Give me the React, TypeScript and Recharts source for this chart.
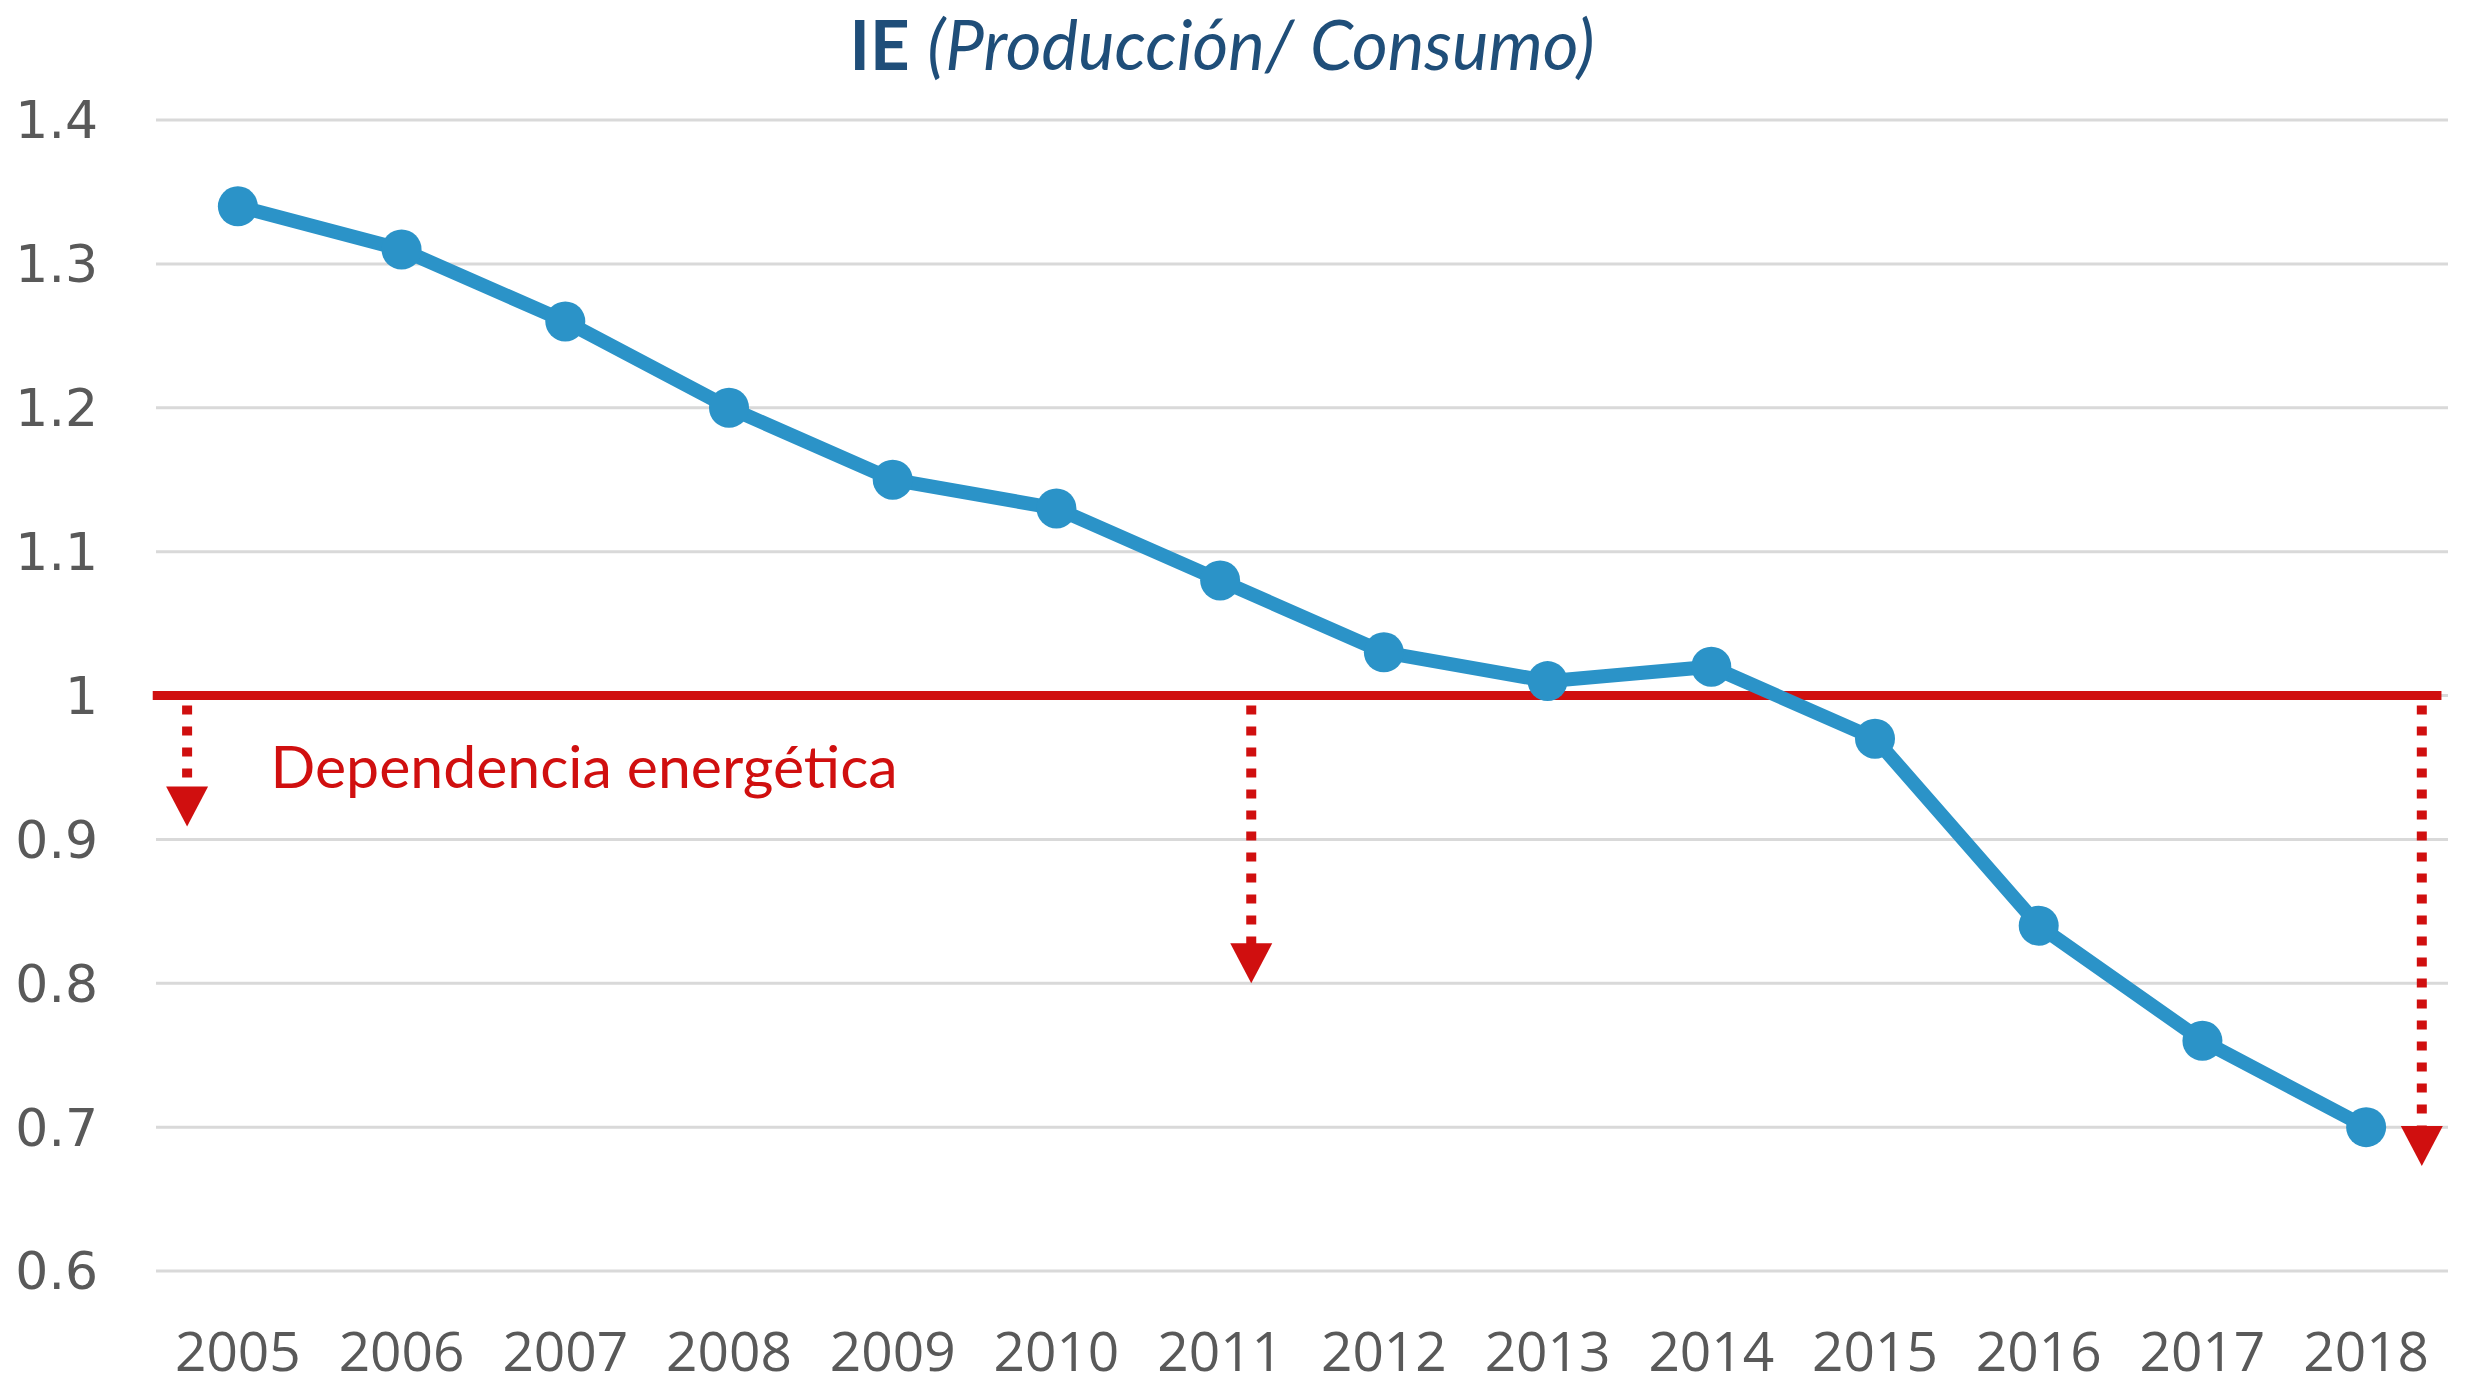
import React from 'react';
import {
  LineChart,
  Line,
  XAxis,
  YAxis,
  CartesianGrid,
  ReferenceLine,
  ReferenceDot,
} from 'recharts';

const YEARS = [2005, 2006, 2007, 2008, 2009, 2010, 2011, 2012, 2013, 2014, 2015, 2016, 2017, 2018];
const IE_VALUES = [1.34, 1.31, 1.26, 1.2, 1.15, 1.13, 1.08, 1.03, 1.01, 1.02, 0.97, 0.84, 0.76, 0.7];
const Y_TICKS = [0.6, 0.7, 0.8, 0.9, 1, 1.1, 1.2, 1.3, 1.4];

const TITLE_BOLD = 'IE';
const TITLE_ITALIC = '(Producción/ Consumo)';
const ANNOTATION_TEXT = 'Dependencia energética';
const THRESHOLD = 1;
const THRESHOLD_X_RANGE = [2004.48, 2018.46];
// arrows: x position (in year units), start value, end (tip) value
const ARROW_X = [2004.69, 2011.19, 2018.34];
const ARROW_START = [0.993, 0.993, 0.993];
const ARROW_TIP = [0.909, 0.8, 0.673];
const ANNOTATION_POS = { x: 2005.2, y: 0.95 };

const data = YEARS.map((year, i) => ({ year, ie: IE_VALUES[i] }));

const BLUE = '#2b93c8';
const RED = '#d00f0f';
const GRID = '#d9d9d9';
const TICK = '#595959';

const Triangle = (props: any) => {
  const { cx, cy } = props;
  const hw = 21;
  const h = 40;
  return <polygon points={`${cx - hw},${cy - h} ${cx + hw},${cy - h} ${cx},${cy}`} fill={RED} />;
};

const AnnotationText = (props: any) => {
  const { cx, cy } = props;
  return (
    <text
      x={cx}
      y={cy}
      dy="0.35em"
      fill={RED}
      fontSize={58}
      fontFamily="Lato"
      textLength={627}
      lengthAdjust="spacingAndGlyphs"
    >
      {ANNOTATION_TEXT}
    </text>
  );
};

export default function App() {
  return (
    <div style={{ position: 'absolute', left: 0, top: 0, width: 2470, height: 1392, background: '#fff' }}>
      <div
        style={{
          position: 'absolute',
          left: 1222,
          top: 3,
          transform: 'translateX(-50%)',
          whiteSpace: 'nowrap',
          color: '#1f4e79',
          fontFamily: 'Lato',
          fontSize: 69,
          lineHeight: 1.2,
        }}
      >
        <span style={{ fontWeight: 700 }}>{TITLE_BOLD}</span>{' '}
        <span style={{ fontStyle: 'italic' }}>{TITLE_ITALIC}</span>
      </div>
      <LineChart width={2470} height={1392} data={data} margin={{ top: 120, right: 22, bottom: 0, left: 0 }}>
        <CartesianGrid horizontal vertical={false} stroke={GRID} strokeWidth={3} />
        <XAxis
          dataKey="year"
          type="number"
          domain={[2004.5, 2018.5]}
          ticks={YEARS}
          interval={0}
          height={121}
          axisLine={false}
          tickLine={false}
          tickMargin={55}
          tickFormatter={(v: number) => String(v)}
          tick={{ fill: TICK, fontSize: 55, fontFamily: 'Open Sans' }}
        />
        <YAxis
          type="number"
          domain={[0.6, 1.4]}
          ticks={Y_TICKS}
          width={156}
          axisLine={false}
          tickLine={false}
          tickMargin={52}
          tickFormatter={(v: number) => String(v)}
          tick={{ fill: TICK, fontSize: 52, fontFamily: 'DejaVu Sans' }}
        />
        <ReferenceLine
          segment={[
            { x: THRESHOLD_X_RANGE[0], y: THRESHOLD },
            { x: THRESHOLD_X_RANGE[1], y: THRESHOLD },
          ]}
          stroke={RED}
          strokeWidth={9}
          ifOverflow="visible"
        />
        {ARROW_X.map((x, i) => (
          <ReferenceLine
            key={`al${i}`}
            segment={[
              { x, y: ARROW_START[i] },
              { x, y: ARROW_TIP[i] + 0.02 },
            ]}
            stroke={RED}
            strokeWidth={10}
            strokeDasharray="9 12"
            ifOverflow="visible"
          />
        ))}
        {ARROW_X.map((x, i) => (
          <ReferenceDot key={`ah${i}`} x={x} y={ARROW_TIP[i]} r={1} shape={Triangle} ifOverflow="visible" />
        ))}
        <ReferenceDot x={ANNOTATION_POS.x} y={ANNOTATION_POS.y} r={1} shape={AnnotationText} ifOverflow="visible" />
        <Line
          type="linear"
          dataKey="ie"
          stroke={BLUE}
          strokeWidth={14}
          dot={{ r: 20, fill: BLUE, stroke: BLUE, strokeWidth: 0 }}
          activeDot={false}
          isAnimationActive={false}
        />
      </LineChart>
    </div>
  );
}
